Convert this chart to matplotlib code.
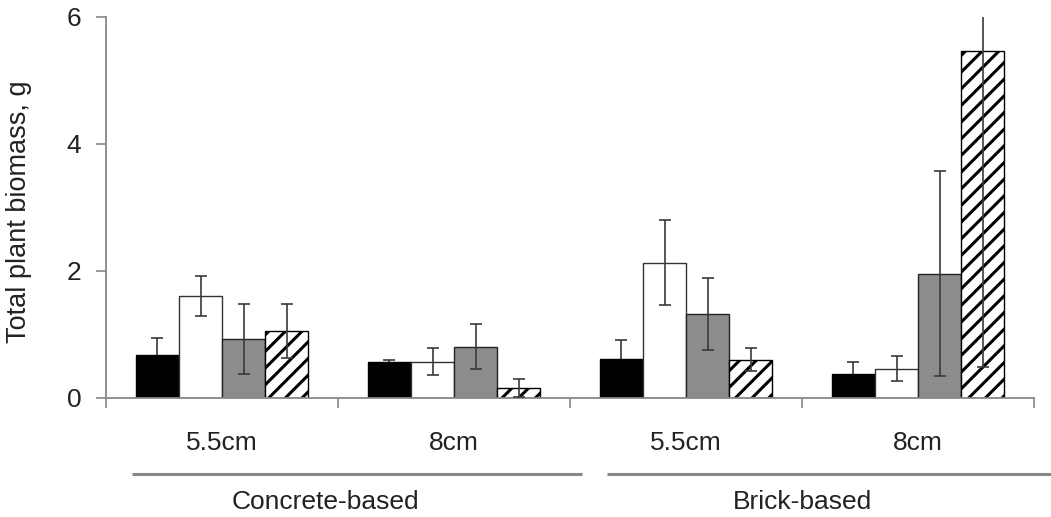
import numpy as np
import matplotlib
matplotlib.use("Agg")
import matplotlib.pyplot as plt

plt.rcParams['font.family'] = ['Liberation Sans', 'DejaVu Sans']
plt.rcParams['hatch.linewidth'] = 2.2

# sub-groups (pot depth) and substrate groups
depths = ['5.5cm', '8cm', '5.5cm', '8cm']
substrates = ['Concrete-based', 'Brick-based']

# four treatments per depth: black, white, grey, hatched
black = [0.67, 0.57, 0.62, 0.38]
black_err = [0.28, 0.03, 0.29, 0.19]
white = [1.61, 0.57, 2.13, 0.46]
white_err = [0.315, 0.21, 0.67, 0.20]
grey = [0.93, 0.81, 1.32, 1.96]
grey_err = [0.555, 0.36, 0.57, 1.62]
hatched = [1.055, 0.16, 0.60, 5.46]
hatched_err = [0.425, 0.14, 0.18, 4.97]

series = [
    (black, black_err, dict(color='black', edgecolor='black')),
    (white, white_err, dict(color='white', edgecolor='#333333')),
    (grey, grey_err, dict(color='#8c8c8c', edgecolor='#222222')),
    (hatched, hatched_err, dict(color='white', edgecolor='black', hatch='//')),
]

fig = plt.figure(figsize=(10.51, 5.17), dpi=100)
ax = fig.add_axes([0.101, 0.2302, 0.883, 0.737])

x = np.arange(len(depths)) + 0.5
w = 0.186
for i, (vals, errs, style) in enumerate(series):
    pos = x + (i - 1.5) * w
    ax.bar(pos, vals, width=w, linewidth=1.0, zorder=2, **style)
    # black bars hide the lower half of their error bars
    ez = 1.5 if i == 0 else 3
    ax.errorbar(pos, vals, yerr=errs, fmt='none', ecolor='#3a3a3a',
                elinewidth=1.2, capsize=4, capthick=1.2, zorder=ez)

ax.set_xlim(0, 4)
ax.set_ylim(0, 6)
ax.set_yticks([0, 2, 4, 6])
ax.set_xticks([0, 1, 2, 3, 4])
ax.set_xticklabels([])
ax.tick_params(axis='y', direction='out', length=7, width=1.2,
               color='#888888', labelsize=19, pad=11, labelcolor='#222222')
ax.tick_params(axis='x', direction='out', length=7, width=1.2, color='#888888')

for s in ['top', 'right']:
    ax.spines[s].set_visible(False)
for s in ['left', 'bottom']:
    ax.spines[s].set_color('#888888')
    ax.spines[s].set_linewidth(1.3)

ax.set_ylabel('Total plant biomass, g', fontsize=19.5, color='#222222')
ax.yaxis.set_label_coords(-0.08, 0.49)

trans = ax.get_xaxis_transform()
for xi, lab in zip(x, depths):
    ax.text(xi, -0.118, lab, transform=trans, ha='center', va='center',
            fontsize=19, color='#222222')

# substrate brackets below the depth labels
line_x = [(0.11, 2.05), (2.16, 4.1)]
label_x = [0.944, 3.0]
for (x0, x1), lx, lab in zip(line_x, label_x, substrates):
    ax.plot([x0, x1], [-0.2, -0.2], transform=trans, color='#888888',
            linewidth=2.2, clip_on=False, solid_capstyle='butt')
    ax.text(lx, -0.272, lab, transform=trans, ha='center',
            va='center', fontsize=19, color='#222222')

fig.savefig('out.png', dpi=100, facecolor='white')
